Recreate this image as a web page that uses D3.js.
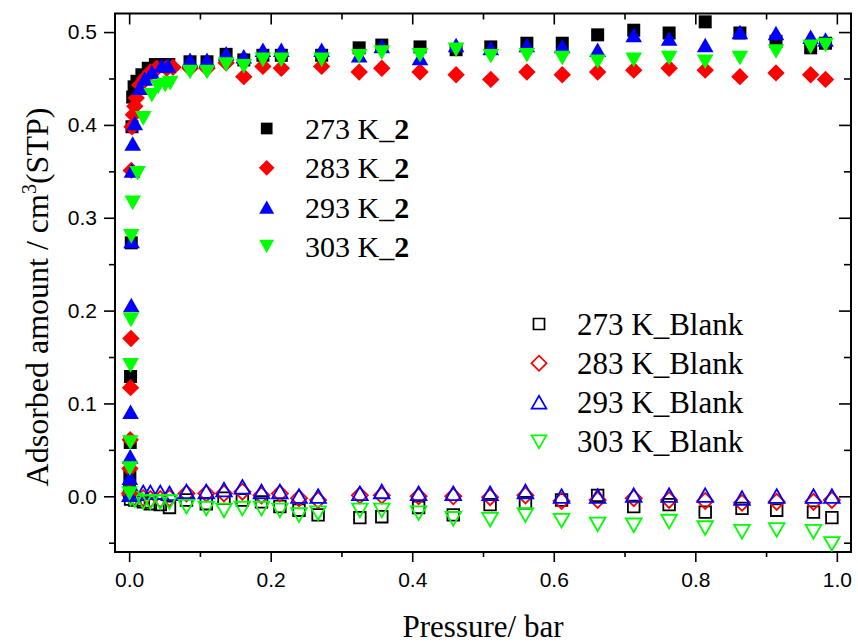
<!DOCTYPE html>
<html>
<head>
<meta charset="utf-8">
<script src="https://cdn.jsdelivr.net/npm/d3@7"></script>
<style>
  body { margin: 0; background: #fff; }
  svg { display: block; }
</style>
</head>
<body>
<svg width="858" height="643"></svg>
<script>
// isotherms of compound 2 (filled) and blank runs (open)
const p273 = [0.0005, 0.001, 0.0015, 0.002, 0.003, 0.004, 0.005, 0.007, 0.011, 0.018, 0.027, 0.037, 0.046, 0.056,
    0.086, 0.110, 0.137, 0.162, 0.189, 0.215, 0.272, 0.325, 0.357, 0.411, 0.462, 0.511, 0.562, 0.612, 0.662, 0.713, 0.763, 0.814, 0.863, 0.914, 0.963, 0.984];
const v273 = [0.005, 0.022, 0.058, 0.129, 0.273, 0.398, 0.430, 0.441, 0.447, 0.454, 0.461, 0.465, 0.465, 0.465,
    0.468, 0.468, 0.476, 0.470, 0.475, 0.475, 0.475, 0.483, 0.486, 0.484, 0.481, 0.484, 0.488, 0.488, 0.497, 0.502, 0.499, 0.511, 0.499, 0.490, 0.483, 0.488];

const p283 = [0.0005, 0.001, 0.0015, 0.002, 0.0025, 0.003, 0.004, 0.006, 0.008, 0.010, 0.015, 0.022, 0.030, 0.039, 0.053, 0.062,
    0.086, 0.110, 0.137, 0.162, 0.189, 0.215, 0.272, 0.325, 0.357, 0.411, 0.462, 0.511, 0.562, 0.612, 0.662, 0.713, 0.763, 0.814, 0.863, 0.914, 0.963, 0.984];
const v283 = [0.003, 0.030, 0.061, 0.117, 0.170, 0.351, 0.398, 0.411, 0.420, 0.429, 0.443, 0.450, 0.457, 0.461, 0.461, 0.462,
    0.461, 0.461, 0.467, 0.452, 0.463, 0.461, 0.463, 0.457, 0.461, 0.457, 0.454, 0.449, 0.457, 0.454, 0.457, 0.459, 0.461, 0.459, 0.452, 0.456, 0.454, 0.449];

const p293 = [0.0005, 0.001, 0.0015, 0.002, 0.003, 0.0035, 0.004, 0.005, 0.008, 0.015, 0.022, 0.032, 0.046, 0.055,
    0.086, 0.110, 0.137, 0.162, 0.189, 0.215, 0.272, 0.325, 0.357, 0.411, 0.462, 0.511, 0.562, 0.612, 0.662, 0.713, 0.763, 0.814, 0.863, 0.914, 0.963, 0.984];
const v293 = [0.002, 0.020, 0.043, 0.091, 0.206, 0.275, 0.351, 0.380, 0.402, 0.440, 0.450, 0.457, 0.464, 0.464,
    0.470, 0.470, 0.477, 0.474, 0.481, 0.481, 0.481, 0.475, 0.485, 0.472, 0.486, 0.483, 0.486, 0.485, 0.481, 0.497, 0.493, 0.486, 0.500, 0.499, 0.495, 0.492];

const p303 = [0.0005, 0.001, 0.0015, 0.002, 0.0025, 0.003, 0.005, 0.012, 0.020, 0.032, 0.041, 0.051, 0.058,
    0.086, 0.110, 0.137, 0.162, 0.189, 0.215, 0.272, 0.325, 0.357, 0.411, 0.462, 0.511, 0.562, 0.612, 0.662, 0.713, 0.763, 0.814, 0.863, 0.914, 0.963, 0.984];
const v303 = [0.003, 0.030, 0.058, 0.141, 0.190, 0.280, 0.316, 0.348, 0.407, 0.432, 0.441, 0.443, 0.445,
    0.457, 0.457, 0.465, 0.463, 0.470, 0.470, 0.470, 0.474, 0.478, 0.475, 0.481, 0.474, 0.475, 0.472, 0.468, 0.470, 0.472, 0.468, 0.472, 0.479, 0.484, 0.486];

// blank runs
const pBlankLow = [0.002, 0.008, 0.020, 0.030, 0.044, 0.057];
const pBlank = [0.081, 0.109, 0.134, 0.160, 0.187, 0.213, 0.240, 0.267, 0.326, 0.357, 0.409, 0.458, 0.510, 0.560,
    0.611, 0.662, 0.713, 0.763, 0.814, 0.866, 0.915, 0.967, 0.993];
const b273Low = [-0.003, -0.004, -0.006, -0.008, -0.009, -0.012];
const b273 = [-0.004, -0.008, -0.002, -0.004, -0.006, -0.011, -0.015, -0.020, -0.023, -0.022, -0.012, -0.020, -0.009, -0.007,
    -0.004, 0.001, -0.011, -0.009, -0.017, -0.013, -0.015, -0.017, -0.023];
const b283Low = [0.001, -0.001, -0.002, -0.003, -0.003, -0.002];
const b283 = [0.003, 0.003, 0.003, 0.005, 0.001, 0.003, -0.002, -0.004, 0.001, 0.001, 0.000, 0.000, -0.001, 0.001,
    -0.005, -0.004, -0.002, -0.004, -0.005, -0.007, -0.006, -0.006, -0.004];
const b293Low = [0.002, 0.003, 0.004, 0.004, 0.004, 0.003];
const b293 = [0.005, 0.005, 0.007, 0.010, 0.005, 0.005, 0.000, 0.000, 0.003, 0.005, 0.003, 0.003, 0.003, 0.005,
    0.000, 0.000, 0.001, 0.001, 0.001, -0.002, 0.000, 0.000, 0.000];
const b303Low = [-0.002, -0.004, -0.006, -0.006, -0.006, -0.006];
const b303 = [-0.011, -0.013, -0.015, -0.013, -0.013, -0.015, -0.020, -0.018, -0.015, -0.015, -0.018, -0.024, -0.025, -0.020,
    -0.026, -0.030, -0.031, -0.027, -0.034, -0.038, -0.036, -0.038, -0.051];

const xTicks = [0, 0.2, 0.4, 0.6, 0.8, 1.0];
const xMinor = [0.1, 0.3, 0.5, 0.7, 0.9];
const yTicks = [0, 0.1, 0.2, 0.3, 0.4, 0.5];
const yMinor = [-0.05, 0.05, 0.15, 0.25, 0.35, 0.45];

const zip = (ps, vs) => ps.map((p, i) => ({p: p, v: vs[i]}));

const series2 = [
    {name: "273 K_", shape: "square", color: "#000000", data: zip(p273, v273)},
    {name: "283 K_", shape: "diamond", color: "#ff0000", data: zip(p283, v283)},
    {name: "293 K_", shape: "up", color: "#0000ff", data: zip(p293, v293)},
    {name: "303 K_", shape: "down", color: "#00ff00", data: zip(p303, v303)}
];
const seriesBlank = [
    {name: "273 K_Blank", shape: "square", color: "#000000", data: zip(pBlankLow.concat(pBlank), b273Low.concat(b273))},
    {name: "283 K_Blank", shape: "diamond", color: "#ff0000", data: zip(pBlankLow.concat(pBlank), b283Low.concat(b283))},
    {name: "293 K_Blank", shape: "up", color: "#0000ff", data: zip(pBlankLow.concat(pBlank), b293Low.concat(b293))},
    {name: "303 K_Blank", shape: "down", color: "#00ff00", data: zip(pBlankLow.concat(pBlank), b303Low.concat(b303))}
];

function markerPath(shape) {
    if (shape === "square") return "M-6.5,-6.5H6.5V6.5H-6.5Z";
    if (shape === "diamond") return "M0,-8.7L8.7,0L0,8.7L-8.7,0Z";
    if (shape === "up") return "M0,-7.3L8.3,7.3L-8.3,7.3Z";
    return "M0,7.3L8.3,-7.3L-8.3,-7.3Z";
}
function openPath(shape) {
    if (shape === "square") return "M-5.8,-5.8H5.8V5.8H-5.8Z";
    if (shape === "diamond") return "M0,-8L8,0L0,8L-8,0Z";
    if (shape === "up") return "M0,-7L7.8,6.6L-7.8,6.6Z";
    return "M0,7L7.8,-6.6L-7.8,-6.6Z";
}

const svg = d3.select("svg");
const area = {left: 115, right: 851, top: 13.5, bottom: 552};

const scX = d3.scaleLinear().domain([-0.02, 1.02]).range([area.left, area.right]);
const scY = d3.scaleLinear().domain([-0.06, 0.52]).range([area.bottom, area.top]);

// axes
const tickFont = "'Liberation Sans', Arial, sans-serif";

function styleAxis(g) {
    g.select(".domain").remove();
    g.selectAll("line").attr("stroke", "#000").attr("stroke-width", 1.6);
    g.selectAll("text").attr("fill", "#000").style("font-family", tickFont).style("font-size", "21px");
}

svg.append("g")
    .attr("transform", `translate(0, ${area.bottom})`)
    .call(d3.axisBottom(scX).tickValues(xTicks).tickSize(10).tickPadding(10).tickFormat(d3.format(".1f")))
    .call(styleAxis);
svg.append("g")
    .attr("transform", `translate(0, ${area.bottom})`)
    .call(d3.axisBottom(scX).tickValues(xMinor).tickSize(5).tickFormat(""))
    .call(styleAxis);
svg.append("g")
    .attr("transform", `translate(0, ${area.top})`)
    .call(d3.axisTop(scX).tickValues(xTicks).tickSize(-11).tickFormat(""))
    .call(styleAxis);
svg.append("g")
    .attr("transform", `translate(0, ${area.top})`)
    .call(d3.axisTop(scX).tickValues(xMinor).tickSize(-6).tickFormat(""))
    .call(styleAxis);

svg.append("g")
    .attr("transform", `translate(${area.left}, 0)`)
    .call(d3.axisLeft(scY).tickValues(yTicks).tickSize(11).tickPadding(7).tickFormat(d3.format(".1f")))
    .call(styleAxis);
svg.append("g")
    .attr("transform", `translate(${area.left}, 0)`)
    .call(d3.axisLeft(scY).tickValues(yMinor).tickSize(6).tickFormat(""))
    .call(styleAxis);
svg.append("g")
    .attr("transform", `translate(${area.right}, 0)`)
    .call(d3.axisRight(scY).tickValues(yTicks).tickSize(-12).tickFormat(""))
    .call(styleAxis);
svg.append("g")
    .attr("transform", `translate(${area.right}, 0)`)
    .call(d3.axisRight(scY).tickValues(yMinor).tickSize(-7).tickFormat(""))
    .call(styleAxis);

svg.append("rect")
    .attr("x", area.left).attr("y", area.top)
    .attr("width", area.right - area.left).attr("height", area.bottom - area.top)
    .attr("fill", "none").attr("stroke", "#000").attr("stroke-width", 2);

// data
const plot = svg.append("g");

seriesBlank.forEach(s => {
    plot.selectAll(null)
        .data(s.data)
        .enter()
        .append("path")
        .attr("d", openPath(s.shape))
        .attr("transform", d => `translate(${scX(d.p)}, ${scY(d.v)})`)
        .attr("fill", "none")
        .attr("stroke", s.color)
        .attr("stroke-width", 1.8);
});

series2.forEach(s => {
    plot.selectAll(null)
        .data(s.data)
        .enter()
        .append("path")
        .attr("d", markerPath(s.shape))
        .attr("transform", d => `translate(${scX(d.p)}, ${scY(d.v)})`)
        .attr("fill", s.color);
});

// legends
const serif = "'Liberation Serif', 'Times New Roman', serif";

const leg1 = svg.append("g");
series2.forEach((s, i) => {
    const y = 128.5 + i * 39.3;
    leg1.append("path")
        .attr("d", markerPath(s.shape))
        .attr("transform", `translate(266.7, ${y}) scale(0.9)`)
        .attr("fill", s.color);
    const t = leg1.append("text")
        .attr("x", 305).attr("y", y + 10.5)
        .style("font-family", serif).style("font-size", "30px");
    t.append("tspan").text(s.name);
    t.append("tspan").style("font-weight", "bold").text("2");
});

const leg2 = svg.append("g");
seriesBlank.forEach((s, i) => {
    const y = 324 + i * 39.2;
    leg2.append("path")
        .attr("d", openPath(s.shape))
        .attr("transform", `translate(539, ${y}) scale(0.95)`)
        .attr("fill", "none")
        .attr("stroke", s.color)
        .attr("stroke-width", 1.8);
    leg2.append("text")
        .attr("x", 577).attr("y", y + 10.5)
        .style("font-family", serif).style("font-size", "31px")
        .text(s.name);
});

// axis titles
svg.append("text")
    .attr("x", 483).attr("y", 637)
    .attr("text-anchor", "middle")
    .style("font-family", serif).style("font-size", "31px")
    .text("Pressure/ bar");

const yt = svg.append("text")
    .attr("transform", "translate(48, 297) rotate(-90)")
    .attr("text-anchor", "middle")
    .style("font-family", serif).style("font-size", "32px");
yt.append("tspan").text("Adsorbed amount / cm");
yt.append("tspan").attr("dy", -12).style("font-size", "20px").text("3");
yt.append("tspan").attr("dy", 12).text("(STP)");
</script>
</body>
</html>
